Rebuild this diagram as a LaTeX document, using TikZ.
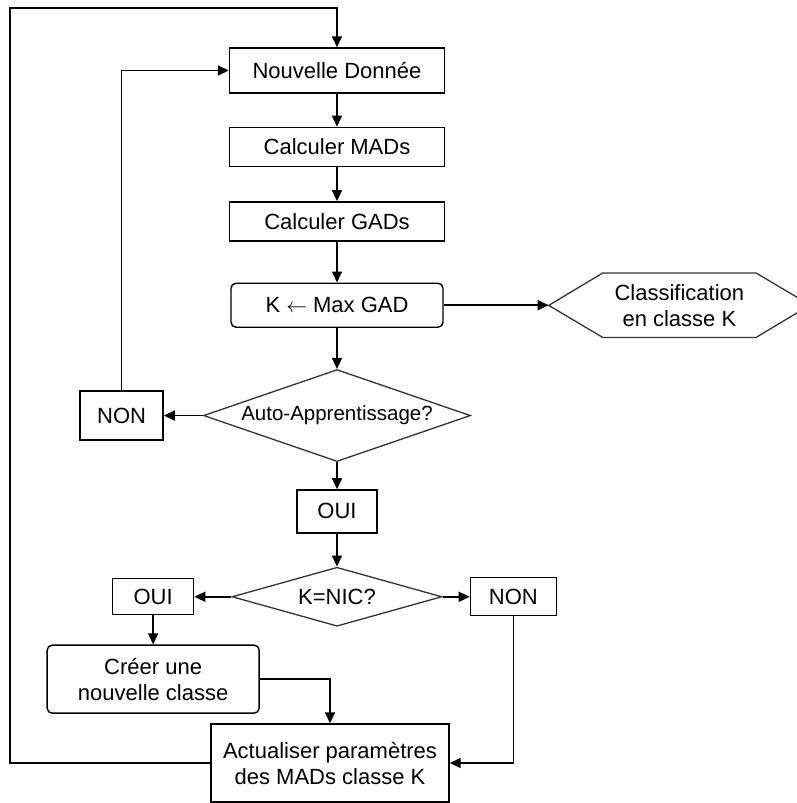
\documentclass[tikz,border=0pt]{standalone}
\usepackage{fontspec}
\setmainfont{Liberation Sans}
\usepackage{tikz}
\usetikzlibrary{arrows.meta,positioning,shapes.geometric}
\tikzset{
    stepbox/.style={draw,line width=1.4pt,fill=white,minimum width=215pt,minimum height=39pt,inner sep=2pt,align=center},
    roundbox/.style={stepbox,rounded corners=5pt},
    answer/.style={draw,line width=1.4pt,fill=white,inner sep=2pt},
    decision/.style={diamond,draw=black!80,line width=1.3pt,fill=white,inner sep=0pt},
    hexline/.style={draw=black!80,line width=1.3pt},
    arr/.style={-{Triangle[length=11pt,width=10pt]},line width=1.6pt}
}

\begin{document}
\begin{tikzpicture}[x=1pt,y=-1pt,font=\fontsize{22}{26}\selectfont]
    \useasboundingbox (0,0) rectangle (797,803);

    % main column
    \node[stepbox,minimum height=45pt] (nouv) at (337,70.5) {Nouvelle Donnée};
    \node[stepbox,below=33pt of nouv] (mads) {Calculer MADs};
    \node[stepbox,below=34pt of mads] (gads) {Calculer GADs};
    \node[roundbox,minimum width=212pt,minimum height=44pt,below=41pt of gads] (kmax) {K $\leftarrow$ Max GAD};
    \node[decision,aspect=2.9,minimum width=267pt,minimum height=92pt,below=41pt of kmax,
          font=\fontsize{20.5}{26}\selectfont] (auto) {Auto-Apprentissage?};
    \node[answer,minimum width=80pt,minimum height=43pt,below=27pt of auto] (oui1) {OUI};
    \node[decision,aspect=3.56,minimum width=210pt,minimum height=59pt,below=33pt of oui1] (knic) {K=NIC?};

    % side branches
    \node[answer,minimum width=83pt,minimum height=49pt,left=39pt of auto] (non1) {NON};
    \node[answer,minimum width=81pt,minimum height=36pt,left=37pt of knic] (oui2) {OUI};
    \node[answer,minimum width=86pt,minimum height=38pt,right=27pt of knic] (non2) {NON};
    \node[roundbox,minimum width=212pt,minimum height=68pt,below=29pt of oui2] (creer) {Créer une\\nouvelle classe};
    \node[stepbox,minimum width=238pt,minimum height=78pt] (act) at (330,763) {Actualiser paramètres\\des MADs classe K};

    % output
    \node[minimum width=153pt,minimum height=64pt,inner sep=0pt,align=center,right=159pt of kmax] (classif) {Classification\\en classe K};
    \draw[hexline] (classif.north west) -- (classif.north east) -- ++(54,32) -- (classif.south east)
        -- (classif.south west) -- ++(-54,-32) -- cycle;
    \coordinate[left=54pt of classif.west] (classiftip);
    \coordinate (loopturn) at (10,8);

    \draw[arr] (nouv) -- (mads);
    \draw[arr] (mads) -- (gads);
    \draw[arr] (gads) -- (kmax);
    \draw[arr] (kmax) -- (auto);
    \draw[arr] (kmax.east) -- (classiftip);
    \draw[arr] (auto) -- (oui1);
    \draw[arr] (auto.west) -- (non1.east);
    \draw[arr] (non1.north) |- (nouv.west);
    \draw[arr] (oui1) -- (knic);
    \draw[arr] (knic.west) -- (oui2.east);
    \draw[arr] (knic.east) -- (non2.west);
    \draw[arr] (oui2) -- (creer);
    \draw[arr] (creer.east) -| (act.north);
    \draw[arr] (non2.south) |- (act.east);
    \draw[arr] (act.west) -| (loopturn) -| (nouv.north);
\end{tikzpicture}
\end{document}
